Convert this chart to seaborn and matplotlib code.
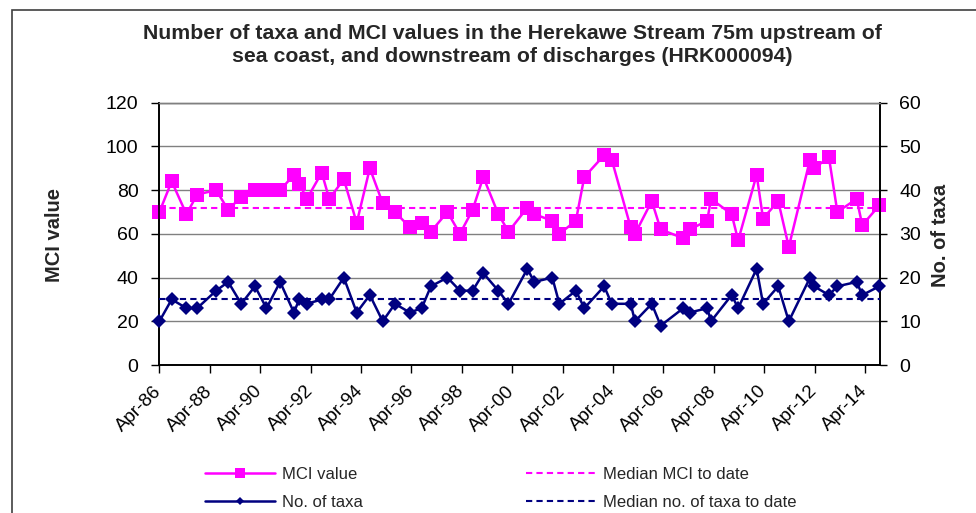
import numpy as np
import pandas as pd
import seaborn as sns
import matplotlib.pyplot as plt
import matplotlib.dates as mdates
from matplotlib.lines import Line2D
from matplotlib.patches import Rectangle


# =====================================================
# DATA
# =====================================================

sample_dates = [
    "1986-04-01", "1986-09-26", "1987-04-28", "1987-10-01", "1988-07-01",
    "1988-12-23", "1989-07-01", "1990-01-15", "1990-07-01", "1991-01-15",
    "1991-08-03", "1991-10-18", "1992-02-07", "1992-09-09", "1992-12-27",
    "1993-07-26", "1994-01-29", "1994-08-07", "1995-02-10", "1995-08-07",
    "1996-03-09", "1996-08-28", "1997-01-08", "1997-09-05", "1998-03-05",
    "1998-09-05", "1999-02-07", "1999-09-13", "2000-02-07", "2000-11-07",
    "2001-02-14", "2001-11-03", "2002-02-14", "2002-10-11", "2003-02-10",
    "2003-11-25", "2004-03-13", "2004-12-13", "2005-02-14", "2005-10-15",
    "2006-02-21", "2007-01-15", "2007-04-19", "2007-12-27", "2008-02-21",
    "2008-12-16", "2009-03-20", "2009-12-13", "2010-03-16", "2010-10-22",
    "2011-03-24", "2012-01-26", "2012-03-24", "2012-10-26", "2013-02-25",
    "2013-12-02", "2014-02-21", "2014-10-26",
]

mci_values = [
    70, 84, 69, 78, 80, 71, 77, 80, 80, 80,
    87, 83, 76, 88, 76, 85, 65, 90, 74, 70,
    63, 65, 61, 70, 60, 71, 86, 69, 61, 72,
    69, 66, 60, 66, 86, 96, 94, 63, 60, 75,
    62, 58, 62, 66, 76, 69, 57, 87, 67, 75,
    54, 94, 90, 95, 70, 76, 64, 73,
]

taxa_counts = [
    10, 15, 13, 13, 17, 19, 14, 18, 13, 19,
    12, 15, 14, 15, 15, 20, 12, 16, 10, 14,
    12, 13, 18, 20, 17, 17, 21, 17, 14, 22,
    19, 20, 14, 17, 13, 18, 14, 14, 10, 14,
    9, 13, 12, 13, 10, 16, 13, 22, 14, 18,
    10, 20, 18, 16, 18, 19, 16, 18,
]

median_mci = 72
median_taxa = 15

x_start = "1986-04-01"
x_end = "2014-11-05"

title_text = (
    "Number of taxa and MCI values in the Herekawe Stream 75m upstream of\n"
    "sea coast, and downstream of discharges (HRK000094)"
)

PINK = "#FF00FF"
NAVY = "#000080"


# =====================================================
# FRAME
# =====================================================

df = pd.DataFrame({
    "date": pd.to_datetime(sample_dates),
    "mci": mci_values,
    "taxa": taxa_counts,
})

sns.set_theme(style="white")
plt.rcParams["font.family"] = ["Liberation Sans", "DejaVu Sans"]

fig = plt.figure(figsize=(9.76, 5.13), dpi=100)
ax = fig.add_axes([159.4 / 976, 1 - 365 / 513, (880 - 159.4) / 976, (365 - 102.7) / 513])
ax2 = ax.twinx()

# outer chart border
fig.patches.append(
    Rectangle(
        (12 / 976, -0.1), 1.2, 1 - 10 / 513 + 0.1,
        transform=fig.transFigure, fill=False,
        edgecolor="#404040", linewidth=1.2, zorder=0
    )
)


# =====================================================
# LINES
# =====================================================

sns.lineplot(
    data=df, x="date", y="mci", ax=ax,
    color=PINK, linewidth=1.8,
    marker="s", markersize=10, markeredgewidth=0,
    markerfacecolor=PINK, zorder=4, clip_on=False
)

sns.lineplot(
    data=df, x="date", y="taxa", ax=ax2,
    color=NAVY, linewidth=1.8,
    marker="D", markersize=6.8, markeredgewidth=0,
    markerfacecolor=NAVY, zorder=4, clip_on=False
)

ax.axhline(median_mci, color=PINK, linestyle=(0, (3, 2)), linewidth=1.5, zorder=3)
ax2.axhline(median_taxa, color=NAVY, linestyle=(0, (3, 2)), linewidth=1.5, zorder=3)


# =====================================================
# AXES
# =====================================================

ax.set_xlim(pd.Timestamp(x_start), pd.Timestamp(x_end))
ax.set_ylim(0, 120)
ax2.set_ylim(0, 60)

ax.set_yticks(np.arange(0, 121, 20))
ax2.set_yticks(np.arange(0, 61, 10))

ax.xaxis.set_major_locator(mdates.YearLocator(base=2, month=4, day=1))
ax.xaxis.set_major_formatter(mdates.DateFormatter("%b-%y"))

ax.yaxis.grid(True, color="#808080", linewidth=1)
ax.set_axisbelow(True)

for a in (ax, ax2):
    for side in ("left", "right", "bottom"):
        a.spines[side].set_color("black")
        a.spines[side].set_linewidth(1.2)
    a.spines["top"].set_color("#808080")
    a.spines["top"].set_linewidth(1)

ax.tick_params(
    axis="y", direction="out", length=6, width=1, left=True,
    color="black", labelsize=14, labelcolor="black", pad=9
)
ax.tick_params(
    axis="x", direction="out", length=6, width=1, bottom=True,
    color="black", labelsize=13.5, labelcolor="black", pad=11
)
ax2.tick_params(
    axis="y", direction="out", length=5, width=1, right=True,
    color="black", labelsize=14, labelcolor="black", pad=9
)

for lbl in ax.get_xticklabels():
    lbl.set_rotation(45)
    lbl.set_ha("right")
    lbl.set_va("center")
    lbl.set_rotation_mode("anchor")

ax.set_xlabel("")
ax.set_ylabel("")
ax2.set_ylabel("")

fig.text(54 / 976, 1 - 235 / 513, "MCI value", rotation=90,
         ha="center", va="center", fontsize=14.5, fontweight="bold")
fig.text(940 / 976, 1 - 235 / 513, "No. of taxa", rotation=90,
         ha="center", va="center", fontsize=14.5, fontweight="bold")

fig.text(512 / 976, 1 - 45 / 513, title_text, ha="center", va="center",
         fontsize=15.3, fontweight="bold", linespacing=1.25)


# =====================================================
# LEGEND
# =====================================================

handles = [
    Line2D([], [], color=PINK, linewidth=1.8, marker="s", markersize=7, markeredgewidth=0),
    Line2D([], [], color=NAVY, linewidth=1.8, marker="D", markersize=4.5, markeredgewidth=0),
    Line2D([], [], color=PINK, linewidth=1.5, linestyle=(0, (3, 2))),
    Line2D([], [], color=NAVY, linewidth=1.5, linestyle=(0, (3, 2))),
]
labels = ["MCI value", "No. of taxa", "Median MCI to date", "Median no. of taxa to date"]

fig.legend(
    handles, labels, ncol=2, loc="upper left",
    bbox_to_anchor=(205 / 976, 1 - 467 / 513),
    frameon=False, fontsize=12, handlelength=4.2, handletextpad=0.42,
    columnspacing=9.8, labelspacing=0.78, borderpad=0, borderaxespad=0
)

fig.savefig("out.png", dpi=100)
plt.close(fig)
